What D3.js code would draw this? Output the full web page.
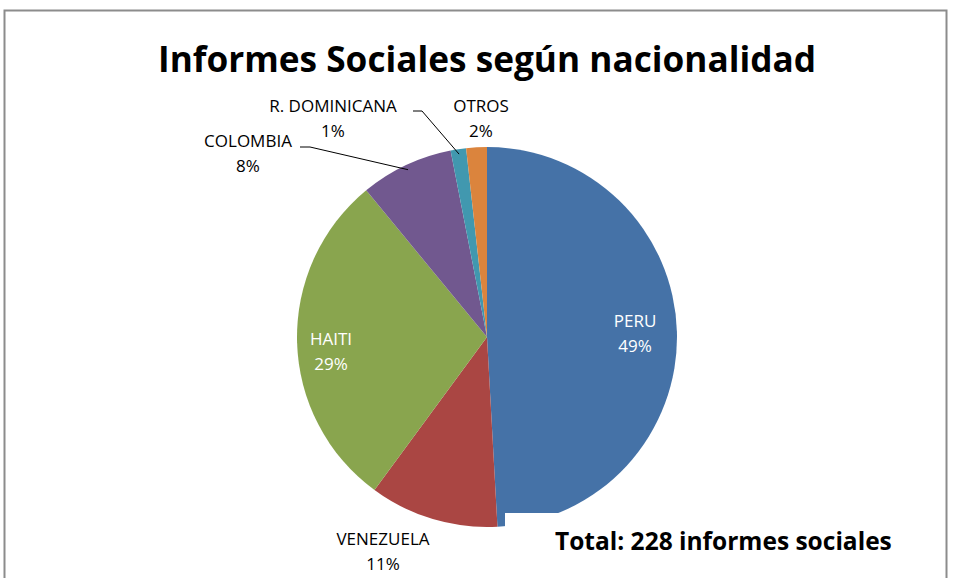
<!DOCTYPE html>
<html>
<head>
<meta charset="utf-8">
<script src="https://cdn.jsdelivr.net/npm/d3@7"></script>
<style>
  body { margin: 0; background: #fff; }
  text { font-family: "Open Sans", "Noto Sans", sans-serif; }
</style>
</head>
<body>
<div id="chart"></div>
<script>
// datos del grafico
var paises = ["PERU", "VENEZUELA", "HAITI", "COLOMBIA", "R. DOMINICANA", "OTROS"];
var informes = [112, 25, 66, 18, 3, 4];
var porcentajes = ["49%", "11%", "29%", "8%", "1%", "2%"];
var colores = ["#4572A7", "#AA4643", "#89A54E", "#71588F", "#4198AF", "#DB843D"];
var total = 228;

var svg = d3.select("#chart").append("svg")
    .attr("width", 956)
    .attr("height", 578);

// marco
svg.append("rect")
    .attr("x", 4.5).attr("y", 10.5)
    .attr("width", 942).attr("height", 600)
    .attr("fill", "#fff")
    .attr("stroke", "#8c8c8c")
    .attr("stroke-width", 2);

svg.append("text")
    .attr("x", 487).attr("y", 72)
    .attr("text-anchor", "middle")
    .style("font-size", "36px")
    .style("font-weight", "bold")
    .attr("textLength", 658)
    .attr("lengthAdjust", "spacingAndGlyphs")
    .text("Informes Sociales según nacionalidad");

var cx = 487, cy = 337, r = 190;
var datos = paises.map(function(p, i) {
    return { pais: p, valor: informes[i], pct: porcentajes[i], color: colores[i] };
});

var pie = d3.pie().sort(null).value(function(d) { return d.valor; });
var arc = d3.arc().innerRadius(0).outerRadius(r);
var arcos = pie(datos);

var g = svg.append("g").attr("transform", "translate(" + cx + "," + cy + ")");
g.selectAll("path")
    .data(arcos)
    .enter().append("path")
    .attr("d", arc)
    .attr("fill", function(d) { return d.data.color; });

// posicion de etiquetas (relativas al centro)
var etiquetas = {
    "PERU": [148, -10, "#fff"],
    "VENEZUELA": [-104, 208, "#000"],
    "HAITI": [-156, 8, "#fff"],
    "COLOMBIA": [-239, -190, "#000"],
    "R. DOMINICANA": [-154, -225, "#000"],
    "OTROS": [-6, -225, "#000"]
};

arcos.forEach(function(d) {
    var e = etiquetas[d.data.pais];
    var t = g.append("text")
        .attr("text-anchor", "middle")
        .style("font-size", "17px")
        .attr("fill", e[2]);
    t.append("tspan").attr("x", e[0]).attr("y", e[1]).text(d.data.pais);
    t.append("tspan").attr("x", e[0]).attr("y", e[1] + 25).text(d.data.pct);
});

// lineas guia
function guia(i, pts) {
    var a = (arcos[i].startAngle + arcos[i].endAngle) / 2;
    var borde = [Math.sin(a) * (r - 5), -Math.cos(a) * (r - 5)];
    g.append("path")
        .attr("d", d3.line()(pts.concat([borde])))
        .attr("fill", "none")
        .attr("stroke", "#000")
        .attr("stroke-width", 1);
}
guia(3, [[-187, -190], [-177, -190]]);
guia(4, [[-74, -226], [-65, -226]]);

// caja del total
svg.append("rect")
    .attr("x", 505).attr("y", 513)
    .attr("width", 440).attr("height", 70)
    .attr("fill", "#fff");
svg.append("text")
    .attr("x", 555).attr("y", 550)
    .style("font-size", "24.5px")
    .style("font-weight", "bold")
    .text("Total: " + total + " informes sociales");
</script>
</body>
</html>
